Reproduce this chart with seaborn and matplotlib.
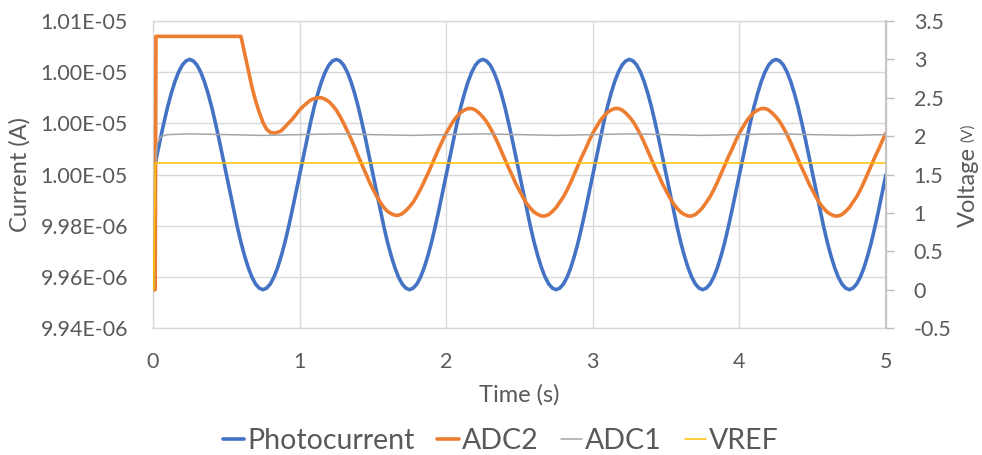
import numpy as np
import pandas as pd
import matplotlib
matplotlib.use("Agg")
import matplotlib.pyplot as plt
import seaborn as sns
from matplotlib.ticker import FuncFormatter, MultipleLocator

pc_time = np.round(np.arange(201) * 0.025, 3)
photocurrent_uA = [
    # 0 - 1 s
    10.0000, 10.0070, 10.0139, 10.0204, 10.0265, 10.0318, 10.0364, 10.0401, 10.0428, 10.0444,
    10.0450, 10.0444, 10.0428, 10.0401, 10.0364, 10.0318, 10.0265, 10.0204, 10.0139, 10.0070,
    10.0000, 9.9930, 9.9861, 9.9796, 9.9735, 9.9682, 9.9636, 9.9599, 9.9572, 9.9556,
    9.9550, 9.9556, 9.9572, 9.9599, 9.9636, 9.9682, 9.9735, 9.9796, 9.9861, 9.9930,
    # 1 - 2 s
    10.0000, 10.0070, 10.0139, 10.0204, 10.0265, 10.0318, 10.0364, 10.0401, 10.0428, 10.0444,
    10.0450, 10.0444, 10.0428, 10.0401, 10.0364, 10.0318, 10.0265, 10.0204, 10.0139, 10.0070,
    10.0000, 9.9930, 9.9861, 9.9796, 9.9735, 9.9682, 9.9636, 9.9599, 9.9572, 9.9556,
    9.9550, 9.9556, 9.9572, 9.9599, 9.9636, 9.9682, 9.9735, 9.9796, 9.9861, 9.9930,
    # 2 - 3 s
    10.0000, 10.0070, 10.0139, 10.0204, 10.0265, 10.0318, 10.0364, 10.0401, 10.0428, 10.0444,
    10.0450, 10.0444, 10.0428, 10.0401, 10.0364, 10.0318, 10.0265, 10.0204, 10.0139, 10.0070,
    10.0000, 9.9930, 9.9861, 9.9796, 9.9735, 9.9682, 9.9636, 9.9599, 9.9572, 9.9556,
    9.9550, 9.9556, 9.9572, 9.9599, 9.9636, 9.9682, 9.9735, 9.9796, 9.9861, 9.9930,
    # 3 - 4 s
    10.0000, 10.0070, 10.0139, 10.0204, 10.0265, 10.0318, 10.0364, 10.0401, 10.0428, 10.0444,
    10.0450, 10.0444, 10.0428, 10.0401, 10.0364, 10.0318, 10.0265, 10.0204, 10.0139, 10.0070,
    10.0000, 9.9930, 9.9861, 9.9796, 9.9735, 9.9682, 9.9636, 9.9599, 9.9572, 9.9556,
    9.9550, 9.9556, 9.9572, 9.9599, 9.9636, 9.9682, 9.9735, 9.9796, 9.9861, 9.9930,
    # 4 - 5 s
    10.0000, 10.0070, 10.0139, 10.0204, 10.0265, 10.0318, 10.0364, 10.0401, 10.0428, 10.0444,
    10.0450, 10.0444, 10.0428, 10.0401, 10.0364, 10.0318, 10.0265, 10.0204, 10.0139, 10.0070,
    10.0000, 9.9930, 9.9861, 9.9796, 9.9735, 9.9682, 9.9636, 9.9599, 9.9572, 9.9556,
    9.9550, 9.9556, 9.9572, 9.9599, 9.9636, 9.9682, 9.9735, 9.9796, 9.9861, 9.9930,
    10.0000,
]

# ADC2: start-up step, saturated until 0.6 s, then every 0.025 s
adc2_time = np.concatenate([[0.0, 0.015, 0.02, 0.6], np.round(np.arange(25, 201) * 0.025, 3)])
adc2_V = [
    0.00, 0.00, 3.30, 3.30,
    # 0.625 - 1.975 s (settling)
    3.08, 2.86, 2.64, 2.46, 2.31, 2.18, 2.09, 2.05, 2.04, 2.05, 2.07, 2.12, 2.17, 2.22, 2.28,
    2.34, 2.39, 2.43, 2.47, 2.49, 2.50, 2.50, 2.48, 2.45, 2.40, 2.34, 2.26, 2.17, 2.07, 1.97,
    1.86, 1.74, 1.63, 1.52, 1.41, 1.31, 1.22, 1.14, 1.07, 1.02, 0.99, 0.97, 0.97, 0.99, 1.03,
    1.08, 1.14, 1.22, 1.31, 1.41, 1.51, 1.62, 1.73, 1.84, 1.94,
    # 2 - 3 s
    2.04, 2.12, 2.20, 2.26, 2.31, 2.34, 2.36, 2.36, 2.34, 2.30, 2.25, 2.19, 2.11, 2.02, 1.92,
    1.81, 1.70, 1.59, 1.49, 1.38, 1.29, 1.20, 1.12, 1.06, 1.01, 0.98, 0.96, 0.96, 0.98, 1.02,
    1.07, 1.14, 1.21, 1.30, 1.40, 1.51, 1.62, 1.73, 1.83, 1.94,
    # 3 - 4 s
    2.04, 2.12, 2.20, 2.26, 2.31, 2.34, 2.36, 2.36, 2.34, 2.30, 2.25, 2.19, 2.11, 2.02, 1.92,
    1.81, 1.70, 1.59, 1.49, 1.38, 1.29, 1.20, 1.12, 1.06, 1.01, 0.98, 0.96, 0.96, 0.98, 1.02,
    1.07, 1.14, 1.21, 1.30, 1.40, 1.51, 1.62, 1.73, 1.83, 1.94,
    # 4 - 5 s
    2.04, 2.12, 2.20, 2.26, 2.31, 2.34, 2.36, 2.36, 2.34, 2.30, 2.25, 2.19, 2.11, 2.02, 1.92,
    1.81, 1.70, 1.59, 1.49, 1.38, 1.29, 1.20, 1.12, 1.06, 1.01, 0.98, 0.96, 0.96, 0.98, 1.02,
    1.07, 1.14, 1.21, 1.30, 1.40, 1.51, 1.62, 1.73, 1.83, 1.94,
    2.04,
]

adc1_time = [0.0, 0.005, 0.012, 0.02, 0.03, 0.045, 0.06, 0.1, 0.25, 0.5, 0.75, 1.0,
             1.25, 1.5, 1.75, 2.0, 2.25, 2.5, 2.75, 3.0, 3.25, 3.5, 3.75, 4.0,
             4.25, 4.5, 4.75, 5.0]
adc1_V = [0.00, 0.00, 1.45, 1.75, 1.90, 1.97, 2.00, 2.02, 2.03, 2.02, 2.01, 2.02,
          2.03, 2.02, 2.01, 2.02, 2.03, 2.02, 2.01, 2.02, 2.03, 2.02, 2.01, 2.02,
          2.03, 2.02, 2.01, 2.02]

vref_time = [0.0, 0.004, 0.016, 1.0, 2.0, 3.0, 4.0, 5.0]
vref_V = [0.00, 0.00, 1.65, 1.65, 1.65, 1.65, 1.65, 1.65]

series_names = ["Photocurrent", "ADC2", "ADC1", "VREF"]

BLUE, ORANGE, GRAY, YELLOW = "#4472C4", "#ED7D31", "#A5A5A5", "#FFC000"
TXT = "#595959"
GRID = "#d9d9d9"

sns.set_theme(style="white")
plt.rcParams['font.family'] = ['Lato', 'DejaVu Sans']

pc_df = pd.DataFrame({"t": pc_time, "I": np.array(photocurrent_uA) * 1e-6})
adc2_df = pd.DataFrame({"t": adc2_time, "V": adc2_V})
adc1_df = pd.DataFrame({"t": adc1_time, "V": adc1_V})
vref_df = pd.DataFrame({"t": vref_time, "V": vref_V})

fig = plt.figure(figsize=(9.82, 4.55), dpi=100)
ax = fig.add_axes([0.1558, 0.279, 0.7464, 0.6748])
ax2 = ax.twinx()

sns.lineplot(data=pc_df, x="t", y="I", ax=ax, color=BLUE, lw=2.6, legend=False)
sns.lineplot(data=adc2_df, x="t", y="V", ax=ax2, color=ORANGE, lw=2.6, legend=False)
sns.lineplot(data=adc1_df, x="t", y="V", ax=ax2, color=GRAY, lw=1.1, legend=False)
sns.lineplot(data=vref_df, x="t", y="V", ax=ax2, color=YELLOW, lw=1.1, legend=False)

ax.set_xlim(0, 5)
ax.set_ylim(9.94e-6, 1.006e-5)
ax2.set_ylim(-0.5, 3.5)
ax.xaxis.set_major_locator(MultipleLocator(1))
ax.yaxis.set_major_locator(MultipleLocator(2e-8))
ax2.yaxis.set_major_locator(MultipleLocator(0.5))
ax.yaxis.set_major_formatter(FuncFormatter(lambda v, p: f"{v:.2E}"))
ax2.yaxis.set_major_formatter(FuncFormatter(lambda v, p: f"{v:g}"))

ax.grid(True, color=GRID, lw=1)
ax2.grid(False)
for s in ax.spines.values():
    s.set_color(GRID)
    s.set_linewidth(1)
for name, s in ax2.spines.items():
    s.set_visible(name == "right")
ax2.spines["right"].set_color("#bfbfbf")

ax.tick_params(axis="both", length=0, labelsize=15.4, labelcolor=TXT)
ax.tick_params(axis="y", pad=18)
ax.tick_params(axis="x", pad=17)
ax2.tick_params(axis="y", length=6, width=1, color="#bfbfbf", pad=14,
                labelsize=15.4, labelcolor=TXT)

ax.set_xlabel("Time (s)", fontsize=17, color=TXT, labelpad=9)
ax.set_ylabel("Current (A)", fontsize=17, color=TXT, labelpad=7)
ax2.set_ylabel("")
fig.text(0.986, 1 - 187 / 455, "Voltage", rotation=90, ha="center", va="center",
         fontsize=17, color=TXT)
fig.text(0.986, 1 - 133 / 455, "(V)", rotation=90, ha="center", va="center",
         fontsize=11, color=TXT)

handles = ax.get_lines()[:1] + ax2.get_lines()[:3]
fig.legend(handles, series_names, loc="center", bbox_to_anchor=(0.51, 0.03), ncol=4,
           frameon=False, fontsize=20.5, handlelength=0.75, handletextpad=0.1,
           columnspacing=0.8, labelcolor=TXT)

fig.savefig("out.png", dpi=100)
